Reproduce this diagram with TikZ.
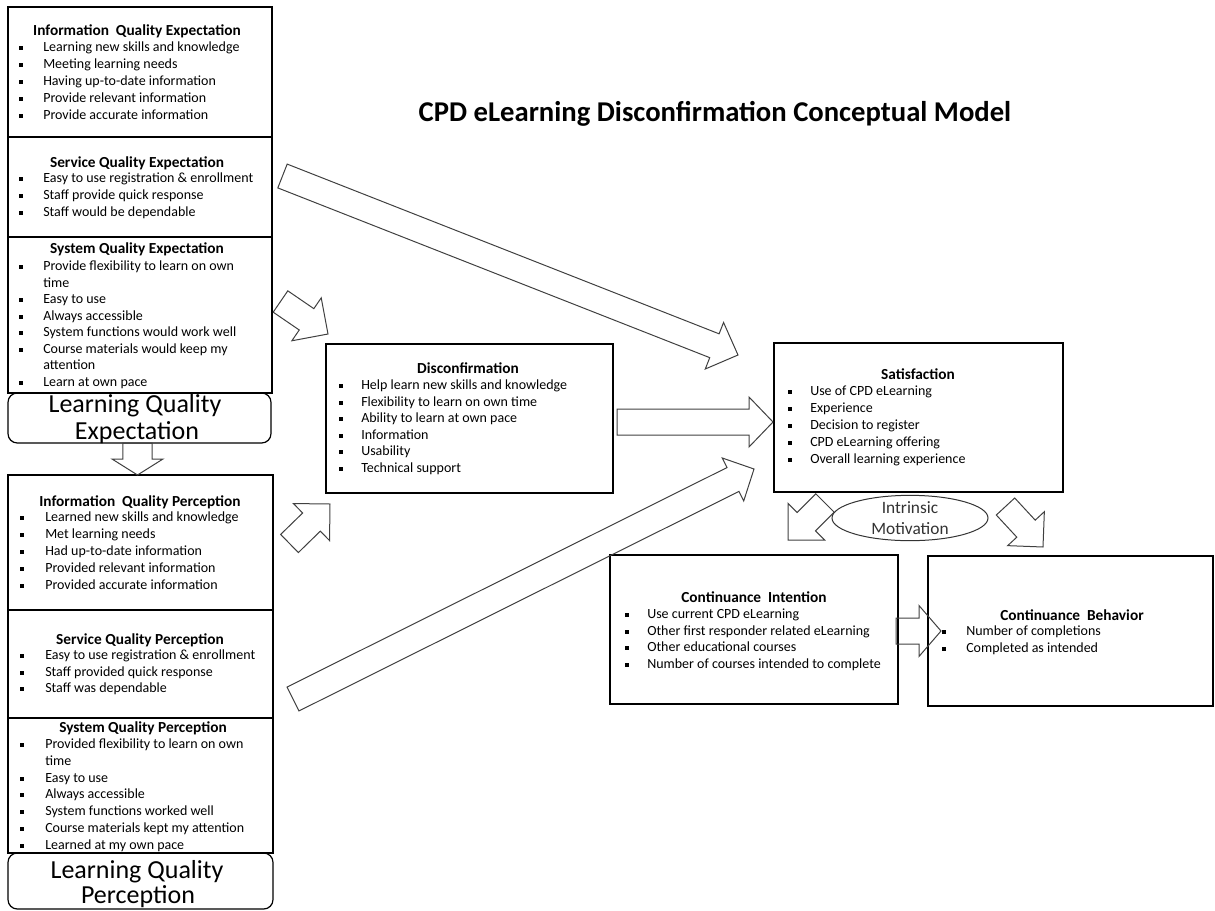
\documentclass[tikz,border=0pt]{standalone}
\usepackage{fontspec}
\setmainfont{Carlito}
\usetikzlibrary{calc,shapes.geometric}
\tikzset{
 box/.style={draw=black, line width=0.9pt, inner sep=0pt, outer sep=0pt},
 ba/.style={draw=black!75, line width=0.75pt, line join=miter},
 hd/.style={font=\fontsize{11.5}{13}\selectfont\bfseries, anchor=base, inner sep=0pt},
 li/.style={font=\fontsize{10.5}{12.6}\selectfont, anchor=base west, inner sep=0pt},
 big/.style={font=\fontsize{19.5}{20}\selectfont, anchor=base, inner sep=0pt},
 mot/.style={font=\fontsize{13}{15}\selectfont, text=black!80, anchor=base, inner sep=0pt},
}
% block arrow: start, tip, shaft half width, head half width, head length
\newcommand{\barrow}[5]{%
 \coordinate (bh) at ($(#2)!#5!(#1)$);
 \draw[ba] ($(#1)!#3!90:(#2)$) -- ($(bh)!#3!-90:(#1)$) -- ($(bh)!#4!-90:(#1)$) -- (#2)
   -- ($(bh)!#4!90:(#1)$) -- ($(bh)!#3!90:(#1)$) -- ($(#1)!#3!-90:(#2)$) -- cycle;}
% box node
\newcommand{\bx}[6][]{\node[box,#1, anchor=north west, minimum width={(#5-#3)*0.75pt}, minimum height={(#6-#4)*0.75pt}] (#2) at (#3,#4) {};}
% bullet list: name, x bullet, x text, y0, dy, items (1=bullet,0=continuation)
\newcommand{\blist}[6]{%
 \foreach \k/\t [count=\ii from 0] in {#6}{%
   \pgfmathsetmacro{\yy}{#4+\ii*#5}%
   \node[li, name=#1-\ii] at (#3,\yy+3.5) {\t};%
   \ifnum\k=1 \fill ($(#2,\yy)+(-2,-2)$) rectangle ++(4,4);\fi
 }}
\begin{document}
\begin{tikzpicture}[x=0.75pt,y=-0.75pt]
\useasboundingbox (0,0) rectangle (1215,911);

% title
\node[font=\fontsize{21.5}{25}\selectfont\bfseries, anchor=base, inner sep=0pt] (title) at (715,121) {CPD eLearning Disconfirmation Conceptual Model};

% expectation stack
\bx{iqe}{8}{7}{272}{137}
\bx{sqe}{8}{137}{272}{237}
\bx{syqe}{8}{237}{272}{393}
\bx[rounded corners=7pt]{lqe}{8}{393}{271}{443}

\node[hd] (iqeh) at (137,35) {Information\hspace{0.45em}Quality Expectation};
\blist{iqel}{21}{43}{48}{16.9}{1/Learning new skills and knowledge, 1/Meeting learning needs, 1/Having up-to-date information, 1/Provide relevant information, 1/Provide accurate information}

\node[hd] (sqeh) at (137,167) {Service Quality Expectation};
\blist{sqel}{21}{43}{179}{17}{1/Easy to use registration \& enrollment, 1/Staff provide quick response, 1/Staff would be dependable}

\node[hd] (syqeh) at (137,253) {System Quality Expectation};
\blist{syqel}{21}{43}{267}{16.5}{1/Provide flexibility to learn on own, 0/time, 1/Easy to use, 1/Always accessible, 1/System functions would work well, 1/Course materials would keep my, 0/attention, 1/Learn at own pace}

\node[big] (lqet1) at (135,412) {Learning Quality};
\node[big] (lqet2) at (137,439) {Expectation};

% perception stack
\bx{iqp}{8}{475}{273}{610}
\bx{sqp}{8}{610}{273}{718}
\bx{syqp}{8}{718}{273}{853}
\bx[rounded corners=7pt]{lqp}{8}{853}{273}{909}

\node[hd] (iqph) at (140,506) {Information\hspace{0.45em}Quality Perception};
\blist{iqpl}{22}{45}{518}{17}{1/Learned new skills and knowledge, 1/Met learning needs, 1/Had up-to-date information, 1/Provided relevant information, 1/Provided accurate information}

\node[hd] (sqph) at (140,644) {Service Quality Perception};
\blist{sqpl}{22}{45}{656}{16.5}{1/Easy to use registration \& enrollment, 1/Staff provided quick response, 1/Staff was dependable}

\node[hd] (syqph) at (143,732) {System Quality Perception};
\blist{syqpl}{22}{45}{745}{16.8}{1/Provided flexibility to learn on own, 0/time, 1/Easy to use, 1/Always accessible, 1/System functions worked well, 1/Course materials kept my attention, 1/Learned at my own pace}

\node[big] (lqpt1) at (137,878) {Learning Quality};
\node[big] (lqpt2) at (138,903) {Perception};

% disconfirmation
\bx{dis}{326}{344}{613}{493}
\node[hd] (dish) at (468,373) {Disconfirmation};
\blist{disl}{341}{361}{386}{16.6}{1/Help learn new skills and knowledge, 1/Flexibility to learn on own time, 1/Ability to learn at own pace, 1/Information, 1/Usability, 1/Technical support}

% satisfaction
\bx{sat}{774}{343}{1063}{492}
\node[hd] (sath) at (918,379) {Satisfaction};
\blist{satl}{790}{810}{392}{17}{1/Use of CPD eLearning, 1/Experience, 1/Decision to register, 1/CPD eLearning offering, 1/Overall learning experience}

% continuance intention
\bx{ci}{610}{555}{898}{704}
\node[hd] (cih) at (754,602) {Continuance\hspace{0.45em}Intention};
\blist{cil}{627}{647}{615}{16.7}{1/Use current CPD eLearning, 1/Other first responder related eLearning, 1/Other educational courses, 1/Number of courses intended to complete}

% continuance behavior
\bx{cb}{928}{556}{1213}{706}
\node[hd] (cbh) at (1072,620) {Continuance\hspace{0.45em}Behavior};
\blist{cbl}{944}{966}{632}{17}{1/Number of completions, 1/Completed as intended}

% block arrows
\coordinate (a1s) at (282.5,176);  \coordinate (a1t) at (738,355);
\coordinate (a2s) at (280.5,301.5); \coordinate (a2t) at (328,334);
\coordinate (a3s) at (289.5,543.5); \coordinate (a3t) at (330,504);
\coordinate (a4s) at (617,422);    \coordinate (a4t) at (773,422);
\coordinate (a5s) at (293,699);    \coordinate (a5t) at (754,469);
\coordinate (a6s) at (137.5,443);  \coordinate (a6t) at (137.5,475);
\coordinate (a7s) at (825,503);    \coordinate (a7t) at (788,540);
\coordinate (a8s) at (1005.5,506.5); \coordinate (a8t) at (1043,547);
\coordinate (a9s) at (896,631);    \coordinate (a9t) at (941,631);

\barrow{a1s}{a1t}{9.6pt}{18.75pt}{19pt}
\barrow{a2s}{a2t}{9.7pt}{19.5pt}{19.5pt}
\barrow{a3s}{a3t}{9.5pt}{19.4pt}{19.4pt}
\barrow{a4s}{a4t}{9.75pt}{18.75pt}{18pt}
\barrow{a5s}{a5t}{10pt}{18pt}{17.6pt}
\barrow{a6s}{a6t}{10.9pt}{19.1pt}{12pt}
\barrow{a7s}{a7t}{9.75pt}{19.4pt}{19.4pt}
\barrow{a8s}{a8t}{9.4pt}{18.75pt}{18.75pt}
\barrow{a9s}{a9t}{9.75pt}{19.1pt}{16.5pt}

% intrinsic motivation
\node[draw=black!80, line width=0.75pt, fill=white, ellipse, inner sep=0pt, minimum width=117pt, minimum height=34pt] (im) at (910,518) {};
\node[mot] (imt1) at (910,513) {Intrinsic};
\node[mot] (imt2) at (910,534) {Motivation};
\end{tikzpicture}
\end{document}
